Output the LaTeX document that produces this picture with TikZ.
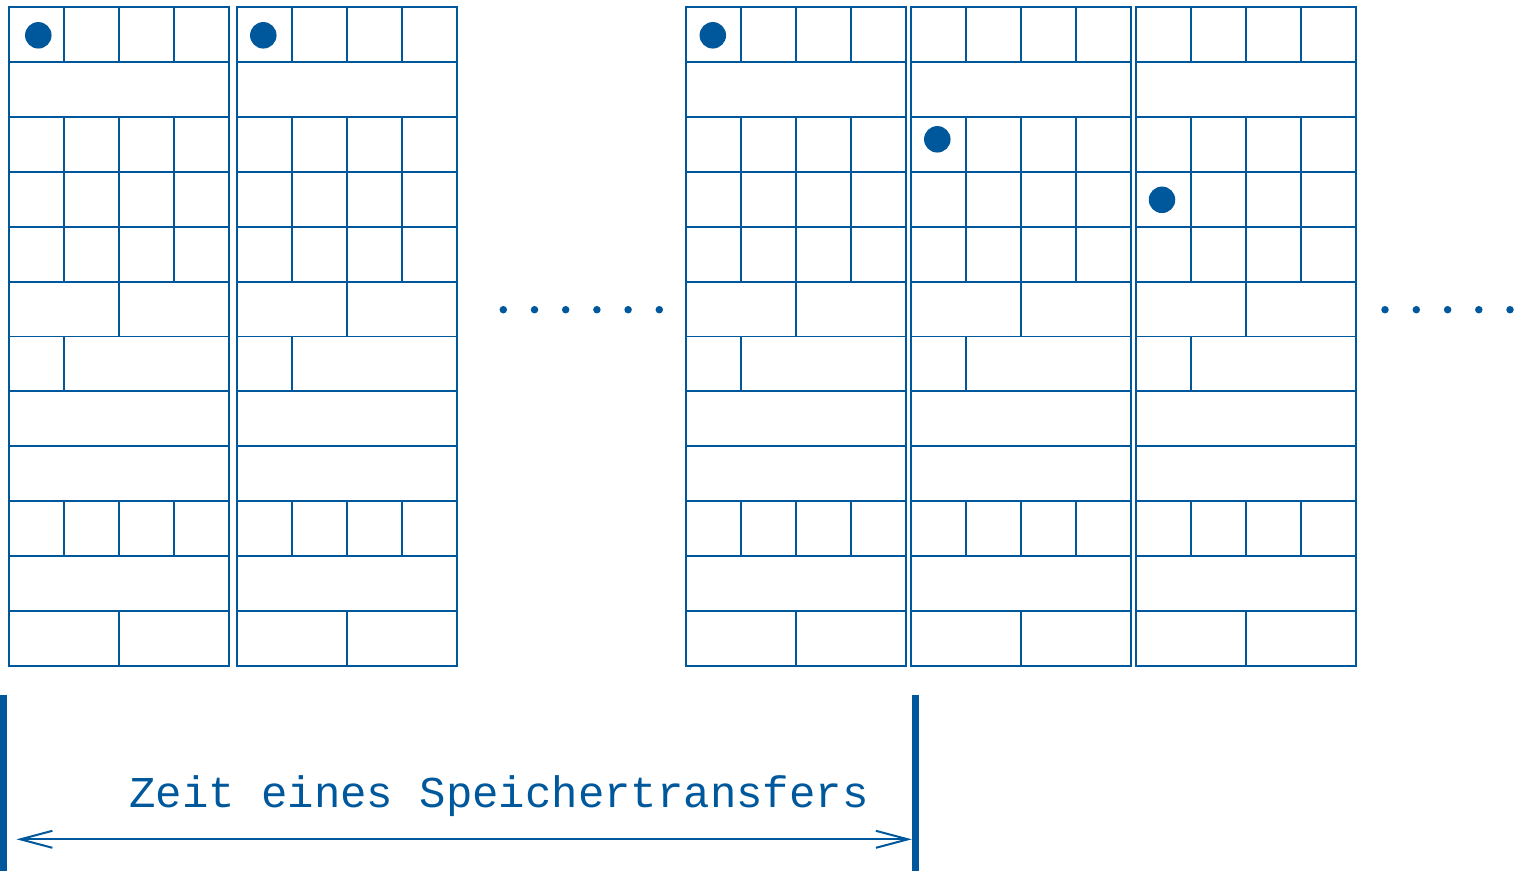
\documentclass[tikz,border=0pt]{standalone}
\usepackage{fontspec}
\newfontfamily\labelmono{Liberation Mono}
\usetikzlibrary{arrows.meta}
\definecolor{memblue}{RGB}{0,88,156}
\tikzset{
  gridline/.style={draw=memblue, line width=1.9pt},
  bigdot/.style={circle, fill=memblue, inner sep=0pt, minimum size=26.5pt},
  smalldot/.style={circle, fill=memblue, inner sep=0pt, minimum size=7.5pt},
  bar/.style={draw=memblue, line width=7pt},
  span/.style={draw=memblue, line width=2pt, {Straight Barb[length=32pt,width=17pt]}-{Straight Barb[length=32pt,width=17pt]}},
  lbl/.style={text=memblue, font=\labelmono\fontsize{44}{50}\selectfont, inner sep=0pt}
}
\begin{document}
\begin{tikzpicture}[x=1pt,y=-1pt]
\useasboundingbox (0,0) rectangle (1535,871);
% memory columns
\foreach \x in {9,237,686,911,1136} {
  \draw[gridline] (\x,7) rectangle ++(220,659);
  \foreach \r in {1,...,11} \draw[gridline] (\x,7+54.92*\r) -- ++(220,0);
  \foreach \r/\d in {0/1,0/2,0/3,2/1,2/2,2/3,3/1,3/2,3/3,4/1,4/2,4/3,5/2,6/1,9/1,9/2,9/3,11/2}
    \draw[gridline] (\x+55*\d,7+54.92*\r) -- ++(0,54.92);
}
% accessed words
\node[bigdot] (d1) at (38.3,35.3) {};
\node[bigdot] (d2) at (263.3,35.3) {};
\node[bigdot] (d3) at (712.8,35.3) {};
\node[bigdot] (d4) at (937.3,139.3) {};
\node[bigdot] (d5) at (1162,199.8) {};
% ellipses
\foreach \i/\px in {1/503.3,2/534.5,3/565.7,4/596.9,5/628.1,6/659.3}
  \node[smalldot] (e\i) at (\px,309.7) {};
\foreach \i/\px in {1/1385,2/1416.3,3/1447.6,4/1478.8,5/1510}
  \node[smalldot] (f\i) at (\px,309.7) {};
% time span
\coordinate (lt) at (3.7,695);
\coordinate (lb) at (3.7,871);
\coordinate (rt) at (915.3,695);
\coordinate (rb) at (915.3,871);
\draw[bar] (lt) -- (lb);
\draw[bar] (rt) -- (rb);
\coordinate (al) at (16.5,839.3);
\coordinate (ar) at (911.8,839.3);
\draw[span] (al) -- (ar);
\node[lbl, anchor=base] (t) at (499,807) {Zeit eines Speichertransfers};
\end{tikzpicture}
\end{document}
